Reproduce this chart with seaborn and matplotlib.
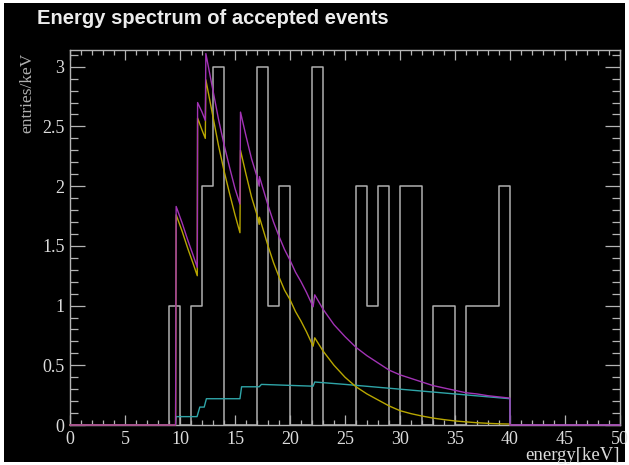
import numpy as np
import pandas as pd
import matplotlib
matplotlib.use("Agg")
import matplotlib.pyplot as plt
import seaborn as sns
from matplotlib.patches import Rectangle
from matplotlib.ticker import MultipleLocator, FixedLocator, FixedFormatter

# ---------------- data ----------------
bin_edges = list(range(0, 51))
hist_counts = [0] * 9 + [1, 0, 1, 2, 3, 0, 0, 0, 3, 1, 2, 0, 0, 3, 0, 0, 0, 2, 1, 2,
                         0, 2, 2, 0, 1, 1, 0, 1, 1, 1, 2] + [0] * 10

yellow_e = [0, 9.6, 9.65, 10.2, 10.7, 11.2, 11.57, 11.6, 12.0, 12.3, 12.35, 13.0, 13.5,
            14.0, 14.5, 15.0, 15.45, 15.5, 16.0, 16.5, 17.0, 17.2, 17.22, 18.0, 18.5,
            19.0, 19.5, 20.0, 20.5, 21.0, 21.5, 22.1, 22.25, 23, 24, 25, 26, 27, 28, 29,
            30, 31, 32, 33, 34, 35, 36, 37, 38, 39, 40, 40]
yellow_v = [0, 0, 1.76, 1.62, 1.48, 1.35, 1.25, 2.57, 2.47, 2.40, 2.89, 2.58, 2.34,
            2.13, 1.94, 1.76, 1.61, 2.30, 2.10, 1.91, 1.76, 1.68, 1.74, 1.50, 1.36,
            1.24, 1.13, 1.05, 0.95, 0.87, 0.78, 0.66, 0.73, 0.62, 0.50, 0.40, 0.32, 0.26,
            0.21, 0.16, 0.12, 0.095, 0.075, 0.058, 0.045, 0.034, 0.026, 0.019, 0.014,
            0.010, 0.008, 0]

cyan_e = [9.6, 9.65, 11.55, 11.8, 12.2, 12.4, 15.45, 15.6, 17.2, 17.4, 22.1, 22.25,
          25, 30, 35, 40, 40]
cyan_v = [0, 0.07, 0.07, 0.15, 0.15, 0.22, 0.22, 0.32, 0.32, 0.34, 0.325, 0.36,
          0.34, 0.30, 0.26, 0.22, 0]

purple_e = [0, 9.6, 9.65, 10.2, 10.7, 11.2, 11.57, 11.6, 12.0, 12.3, 12.35, 13.0, 13.5,
            14.0, 14.5, 15.0, 15.45, 15.5, 16.0, 16.5, 17.0, 17.2, 17.22, 18.0, 18.5,
            19.0, 19.5, 20.0, 20.5, 21.0, 21.5, 22.1, 22.25, 23, 24, 25, 26, 27, 28, 29,
            30, 31, 32, 33, 34, 35, 36, 37, 38, 39, 40, 40, 50]
purple_v = [0, 0, 1.83, 1.69, 1.55, 1.42, 1.32, 2.70, 2.62, 2.55, 3.11, 2.80, 2.56,
            2.35, 2.16, 1.98, 1.85, 2.62, 2.42, 2.23, 2.08, 2.00, 2.08, 1.84, 1.70,
            1.58, 1.47, 1.38, 1.28, 1.20, 1.11, 0.99, 1.09, 0.97, 0.84, 0.74, 0.65, 0.58,
            0.52, 0.46, 0.42, 0.39, 0.36, 0.33, 0.31, 0.29, 0.27, 0.26, 0.245,
            0.235, 0.225, 0, 0]

x_ticks = [0, 5, 10, 15, 20, 25, 30, 35, 40, 45, 50]
x_tick_labels = ["0", "5", "10", "15", "20", "25", "30", "35", "40", "45", "50"]
y_ticks = [0, 0.5, 1, 1.5, 2, 2.5, 3]
y_tick_labels = ["0", "0.5", "1", "1.5", "2", "2.5", "3"]

title = "Energy spectrum of accepted events"
xlabel = "energy[keV]"
ylabel = "entries/keV"

# ---------------- style ----------------
sns.set_style("dark")
plt.rcParams["font.family"] = ["Liberation Serif", "DejaVu Serif"]

W, H = 629, 465
fig = plt.figure(figsize=(W / 100, H / 100), dpi=100, facecolor="white")
fig.patches.append(Rectangle((4 / W, 3 / H), 621 / W, 459 / H, transform=fig.transFigure,
                             facecolor="black", edgecolor="none", zorder=-10))

ax = fig.add_axes([70 / W, 40 / H, 550 / W, 375 / H])
ax.set_facecolor("black")

frame_col = "#b4b4b4"
hist_col = "#b0b0b0"

bin_centers = [e + 0.5 for e in bin_edges[:-1]]
sns.histplot(x=bin_centers, weights=hist_counts, bins=bin_edges, element="step",
             fill=False, color=hist_col, linewidth=1.1, ax=ax)

sns.lineplot(x=cyan_e, y=cyan_v, estimator=None, sort=False, color="#2fa5a8",
             linewidth=1.0, ax=ax)
sns.lineplot(x=yellow_e, y=yellow_v, estimator=None, sort=False, color="#b8a600",
             linewidth=1.0, ax=ax)
sns.lineplot(x=purple_e, y=purple_v, estimator=None, sort=False, color="#a233b5",
             linewidth=1.0, ax=ax)
for i, ln in enumerate(ax.lines):
    ln.set_clip_on(False)
    ln.set_zorder(3 + i)

ax.set_xlim(0, 50)
ax.set_ylim(0, 3.14)
ax.grid(False)

ax.xaxis.set_major_locator(FixedLocator(x_ticks))
ax.xaxis.set_major_formatter(FixedFormatter(x_tick_labels))
ax.xaxis.set_minor_locator(MultipleLocator(1))
ax.yaxis.set_major_locator(FixedLocator(y_ticks))
ax.yaxis.set_major_formatter(FixedFormatter(y_tick_labels))
ax.yaxis.set_minor_locator(MultipleLocator(0.1))

ax.tick_params(axis="x", which="major", direction="in", length=7.5, width=0.9,
               color=frame_col, top=True, bottom=True, labelsize=13,
               labelcolor="#dcdcdc", pad=4)
ax.tick_params(axis="x", which="minor", direction="in", length=3.8, width=0.9,
               color=frame_col, top=True, bottom=True)
ax.tick_params(axis="y", which="major", direction="in", length=10.5, width=0.9,
               color=frame_col, left=True, right=True, labelsize=13,
               labelcolor="#dcdcdc", pad=4)
ax.tick_params(axis="y", which="minor", direction="in", length=5.5, width=0.9,
               color=frame_col, left=True, right=True)

for s in ax.spines.values():
    s.set_visible(True)
    s.set_color(frame_col)
    s.set_linewidth(1.0)
    s.set_zorder(2.5)

ax.set_xlabel("")
ax.set_ylabel("")
fig.text(620 / W, 1 - 455 / H, xlabel, ha="right", va="center", fontsize=13.5,
         color="#dcdcdc")
fig.text(27 / W, 1 - 53 / H, ylabel, ha="center", va="top", rotation=90,
         fontsize=12.5, color="#b0b0b0")
fig.text(37 / W, 1 - 18 / H, title, ha="left", va="center", fontsize=14.5,
         fontweight="bold", color="#ececec", family=["Liberation Sans", "DejaVu Sans"])

fig.savefig("out.png", dpi=100, facecolor="white")
